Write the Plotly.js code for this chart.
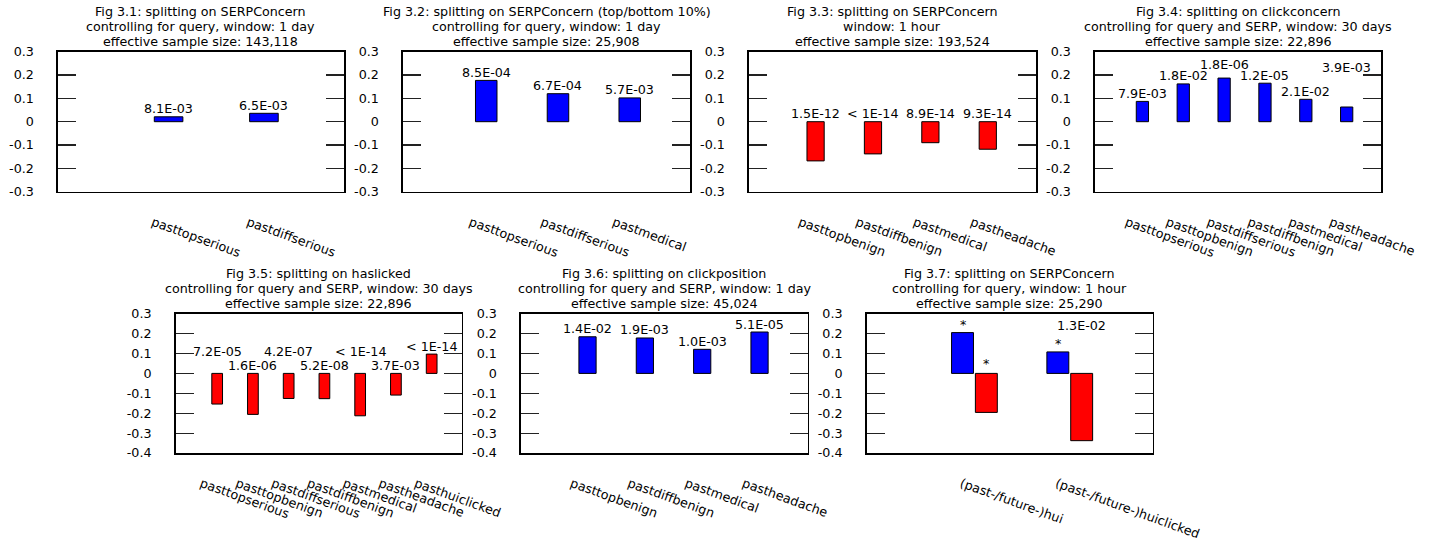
<!DOCTYPE html>
<html><head><meta charset="utf-8">
<script src="https://cdn.plot.ly/plotly-3.0.1.min.js"></script>
<style>html,body{margin:0;padding:0;background:#fff;}#chart{width:1439px;height:548px;}</style>
</head><body><div id="chart"></div>
<script>
// ---------- data ----------
const cats1 = ['pasttopserious','pastdiffserious'];
const vals1 = [0.021, 0.036];
const pv1 = ['8.1E-03','6.5E-03'];

const cats2 = ['pasttopserious','pastdiffserious','pastmedical'];
const vals2 = [0.177, 0.120, 0.102];
const pv2 = ['8.5E-04','6.7E-04','5.7E-03'];

const cats3 = ['pasttopbenign','pastdiffbenign','pastmedical','pastheadache'];
const vals3 = [-0.168, -0.138, -0.090, -0.118];
const pv3 = ['1.5E-12','< 1E-14','8.9E-14','9.3E-14'];

const cats4 = ['pasttopserious','pasttopbenign','pastdiffserious','pastdiffbenign','pastmedical','pastheadache'];
const vals4 = [0.087, 0.162, 0.187, 0.165, 0.096, 0.063];
const pv4 = ['7.9E-03','1.8E-02','1.8E-06','1.2E-05','2.1E-02','3.9E-03'];

const cats5 = ['pasttopserious','pasttopbenign','pastdiffserious','pastdiffbenign','pastmedical','pastheadache','pasthuiclicked'];
const vals5 = [-0.154, -0.206, -0.126, -0.127, -0.213, -0.109, 0.097];
const pv5 = ['7.2E-05','1.6E-06','4.2E-07','5.2E-08','< 1E-14','3.7E-03','< 1E-14'];

const cats6 = ['pasttopbenign','pastdiffbenign','pastmedical','pastheadache'];
const vals6 = [0.184, 0.178, 0.121, 0.208];
const pv6 = ['1.4E-02','1.9E-03','1.0E-03','5.1E-05'];

const cats7 = ['(past-/future-)hui','(past-/future-)huiclicked'];
const past7 = [0.205, 0.108];
const future7 = [-0.196, -0.338];
const pv7past = ['*','*'];
const pv7future = ['*','1.3E-02'];

const titles = [
  ['Fig 3.1: splitting on SERPConcern','controlling for query, window: 1 day','effective sample size: 143,118'],
  ['Fig 3.2: splitting on SERPConcern (top/bottom 10%)','controlling for query, window: 1 day','effective sample size: 25,908'],
  ['Fig 3.3: splitting on SERPConcern','window: 1 hour','effective sample size: 193,524'],
  ['Fig 3.4: splitting on clickconcern','controlling for query and SERP, window: 30 days','effective sample size: 22,896'],
  ['Fig 3.5: splitting on haslicked','controlling for query and SERP, window: 30 days','effective sample size: 22,896'],
  ['Fig 3.6: splitting on clickposition','controlling for query and SERP, window: 1 day','effective sample size: 45,024'],
  ['Fig 3.7: splitting on SERPConcern','controlling for query, window: 1 hour','effective sample size: 25,290']
];

const yTickValsTop = [-0.3,-0.2,-0.1,0,0.1,0.2,0.3];
const yTickTextTop = ['-0.3','-0.2','-0.1','0','0.1','0.2','0.3'];
const yTickValsBot = [-0.4,-0.3,-0.2,-0.1,0,0.1,0.2,0.3];
const yTickTextBot = ['-0.4','-0.3','-0.2','-0.1','0','0.1','0.2','0.3'];

// ---------- styling / layout ----------
const W = 1439, H = 548;
const BLUE = '#0000ff', RED = '#ff0000';
const FONT = 'DejaVu Sans';
const FS = 12.7;

// label extra pixel offsets (styling only)
const shift4 = [0,0,6,0,0,32];
const shift5 = [14,0,14,0,14,0,0];
const shift7f = [2,40];

const panels = [
  {cats:cats1, series:[{y:vals1, lab:pv1, color:BLUE}], box:[58,344,51.7,191.7], row:'top'},
  {cats:cats2, series:[{y:vals2, lab:pv2, color:BLUE}], box:[403,690,51.7,191.7], row:'top'},
  {cats:cats3, series:[{y:vals3, lab:pv3, color:RED}], box:[749,1036,51.7,191.7], row:'top'},
  {cats:cats4, series:[{y:vals4, lab:pv4, color:BLUE, shift:shift4}], box:[1095,1381,51.7,191.7], row:'top'},
  {cats:cats5, series:[{y:vals5, lab:pv5, color:RED, shift:shift5}], box:[175.7,461.7,313.7,453], row:'bot'},
  {cats:cats6, series:[{y:vals6, lab:pv6, color:BLUE}], box:[521,807.7,313.7,453], row:'bot'},
  {cats:cats7, series:[{y:past7, lab:pv7past, color:BLUE, off:-0.27, w:0.23},
                       {y:future7, lab:pv7future, color:RED, off:-0.02, w:0.23, shift:shift7f}],
   box:[866.7,1152.7,313.7,453], row:'bot'}
];

const data = [];
const layout = {
  width: W, height: H,
  margin: {l:0, r:0, t:0, b:0},
  paper_bgcolor: '#fff', plot_bgcolor: '#fff',
  showlegend: false,
  font: {family: FONT, size: FS, color: '#000'},
  annotations: []
};

panels.forEach((p, i) => {
  const k = i + 1;
  const xs = 'x' + k, ys = 'y' + k;
  const xk = 'xaxis' + (k > 1 ? k : ''), yk = 'yaxis' + (k > 1 ? k : '');
  const [L, R, T, B] = p.box;
  const n = p.cats.length;
  p.series.forEach(s => {
    const tr = {
      type: 'bar', x: p.cats, y: s.y, xaxis: xs, yaxis: ys,
      marker: {color: s.color, line: {color: '#000', width: 1}},
      width: s.w !== undefined ? s.w : 0.3,
      hoverinfo: 'skip'
    };
    if (s.off !== undefined) tr.offset = s.off;
    data.push(tr);
    s.y.forEach((v, j) => {
      const w = s.w !== undefined ? s.w : 0.3;
      const cx = s.off !== undefined ? j + s.off + w / 2 : j;
      layout.annotations.push({
        xref: xs, yref: ys, x: cx, y: Math.max(0, v),
        text: s.lab[j], showarrow: false,
        xanchor: 'center', yanchor: 'middle',
        yshift: 8 + (s.shift ? s.shift[j] : 0),
        font: {family: FONT, size: FS, color: '#000'}
      });
    });
  });
  layout[xk] = {
    domain: [L / W, R / W], anchor: ys,
    type: 'category', range: [-1.16, n - 0.16],
    showline: true, mirror: true, linecolor: '#000', linewidth: 1.6,
    ticks: '', showgrid: false, zeroline: false,
    tickangle: 20, ticklabelstandoff: 17, ticklabelshift: -16,
    tickfont: {family: FONT, size: FS, color: '#000'}
  };
  const top = p.row === 'top';
  layout[yk] = {
    domain: [1 - B / H, 1 - T / H], anchor: xs,
    range: top ? [-0.3, 0.3] : [-0.4, 0.3],
    tickmode: 'array',
    tickvals: top ? yTickValsTop : yTickValsBot,
    ticktext: top ? yTickTextTop : yTickTextBot,
    showline: true, mirror: 'ticks', linecolor: '#000', linewidth: 1.6,
    ticks: 'inside', ticklen: 18, tickwidth: 1.2, tickcolor: '#222',
    showgrid: false, zeroline: false,
    ticklabelstandoff: 20,
    tickfont: {family: FONT, size: FS, color: '#000'}
  };
  // titles
  const lines = titles[i];
  lines.forEach((t, j) => {
    const cy = T - 10 - (lines.length - 1 - j) * 15;
    layout.annotations.push({
      xref: 'paper', yref: 'paper', x: (L + R) / 2 / W, y: 1 - cy / H,
      text: t, showarrow: false, xanchor: 'center', yanchor: 'middle',
      font: {family: FONT, size: FS, color: '#000'}
    });
  });
});

Plotly.newPlot('chart', data, layout, {staticPlot: true, displayModeBar: false});
</script>
</body></html>
